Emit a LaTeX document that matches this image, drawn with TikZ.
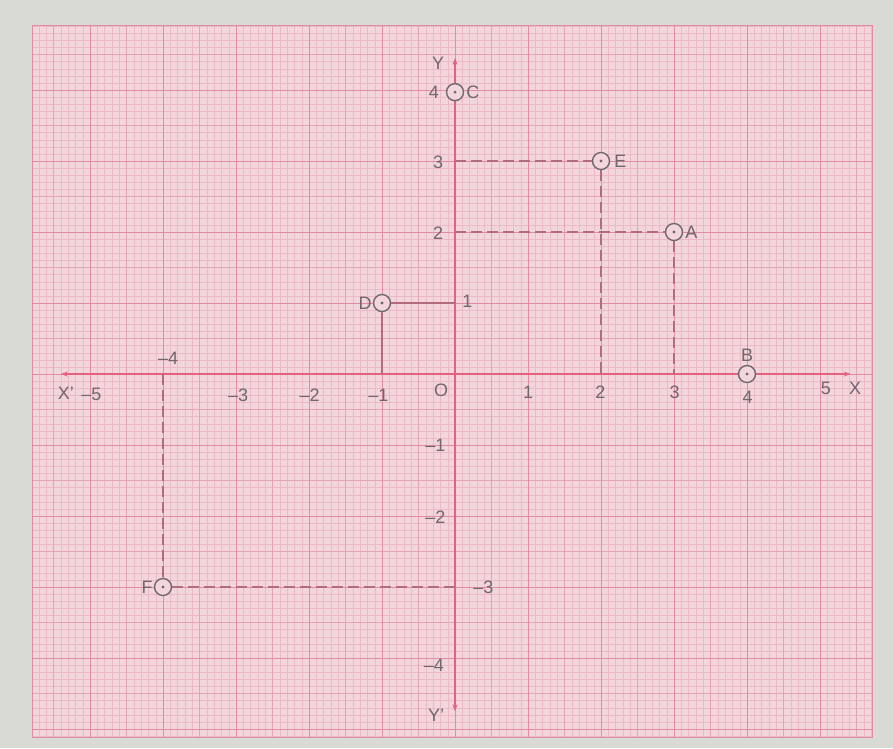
\documentclass[tikz,border=0pt]{standalone}
\usepackage{fontspec}
\setmainfont{Liberation Sans}
\usetikzlibrary{arrows.meta}
\definecolor{bgray}{RGB}{218,218,212}
\definecolor{paper}{RGB}{243,214,220}
\definecolor{finec}{RGB}{235,186,198}
\definecolor{midc}{RGB}{229,164,180}
\definecolor{majorc}{RGB}{224,140,162}
\definecolor{axisc}{RGB}{228,98,128}
\definecolor{ink}{RGB}{112,102,110}
\definecolor{guide}{RGB}{178,108,124}
\tikzset{
  lbl/.style={text=ink, font=\fontsize{18}{20}\selectfont, inner sep=1pt},
  ptmark/.style={circle, draw=ink, line width=1.4pt, minimum size=17pt, inner sep=0pt, fill=paper,
    path picture={\fill[ink] (path picture bounding box.center) circle (1.6pt);}},
  guideline/.style={guide, line width=1.3pt, dash pattern=on 11pt off 5pt},
  guidesolid/.style={guide, line width=1.3pt},
  axisline/.style={axisc, line width=1.5pt, -{Stealth[length=7pt,width=5pt]}}
}
\begin{document}
\begin{tikzpicture}[x=73pt,y=71pt]
\useasboundingbox (-6.233,-5.268) rectangle (6.0,5.268);
\fill[bgray] (-6.233,-5.268) rectangle (6.0,5.268);
\fill[paper] (-5.795,-5.113) rectangle (5.712,4.915);
% graph paper grid
\draw[finec, line width=0.35pt, step=0.1] (-5.795,-5.113) grid (5.712,4.915);
\draw[midc, line width=0.6pt, step=0.5] (-5.795,-5.113) grid (5.712,4.915);
\draw[majorc, line width=0.9pt, step=1] (-5.795,-5.113) grid (5.712,4.915);
\draw[majorc, line width=0.8pt] (-5.795,-5.113) rectangle (5.712,4.915);

% axes
\coordinate (o) at (0,0);
\coordinate (xl) at (-5.4,0);
\coordinate (xr) at (5.42,0);
\coordinate (yt) at (0,4.45);
\coordinate (yb) at (0,-4.75);
\draw[axisline] (o) -- (xr);
\draw[axisline] (o) -- (xl);
\draw[axisline] (o) -- (yt);
\draw[axisline] (o) -- (yb);

% foot points of guides
\coordinate (y3) at (0,3);
\coordinate (y2) at (0,2);
\coordinate (y1) at (0,1);
\coordinate (ym3) at (0,-3);
\coordinate (x2) at (2,0);
\coordinate (x3) at (3,0);
\coordinate (xm1) at (-1,0);
\coordinate (xm4) at (-4,0);

% points
\node[ptmark] (C) at (0,3.97) {};
\node[ptmark] (E) at (2,3) {};
\node[ptmark] (A) at (3,2) {};
\node[ptmark] (B) at (4,0) {};
\node[ptmark] (D) at (-1,1) {};
\node[ptmark] (F) at (-4,-3) {};

% guide lines
\draw[guideline] (y3) -- (E);
\draw[guideline] (E) -- (x2);
\draw[guideline] (y2) -- (A);
\draw[guideline] (A) -- (x3);
\draw[guidesolid] (D) -- (y1);
\draw[guidesolid] (D) -- (xm1);
\draw[guideline] (xm4) -- (F);
\draw[guideline] (F) -- (ym3);

% point labels
\node[lbl, anchor=west] (Cl) at ([xshift=1pt]C.east) {C};
\node[lbl, anchor=west] (El) at ([xshift=3pt]E.east) {E};
\node[lbl, anchor=west] (Al) at ([xshift=1pt]A.east) {A};
\node[lbl, anchor=south] (Bl) at ([yshift=2pt]B.north) {B};
\node[lbl, anchor=east] (Dl) at (D.west) {D};
\node[lbl, anchor=east] (Fl) at (F.west) {F};

% axis labels
\node[lbl] (Xn) at (5.48,-0.2) {X};
\node[lbl] (Xp) at (-5.33,-0.27) {X'};
\node[lbl] (Yn) at (-0.23,4.37) {Y};
\node[lbl] (Yp) at (-0.26,-4.8) {Y'};
\node[lbl] (On) at (-0.19,-0.23) {O};

% x tick labels
\node[lbl] (tm5) at (-4.98,-0.28) {–5};
\node[lbl] (tm4) at (-3.93,0.22) {–4};
\node[lbl] (tm3) at (-2.97,-0.3) {–3};
\node[lbl] (tm2) at (-1.99,-0.3) {–2};
\node[lbl] (tm1) at (-1.05,-0.3) {–1};
\node[lbl] (t1) at (1.0,-0.26) {1};
\node[lbl] (t2) at (1.99,-0.26) {2};
\node[lbl] (t3) at (3.01,-0.26) {3};
\node[lbl] (t4) at (4.01,-0.33) {4};
\node[lbl] (t5) at (5.08,-0.2) {5};

% y tick labels
\node[lbl] (u4) at (-0.29,3.97) {4};
\node[lbl] (u3) at (-0.23,2.98) {3};
\node[lbl] (u2) at (-0.23,1.99) {2};
\node[lbl] (u1) at (0.17,1.02) {1};
\node[lbl] (um1) at (-0.27,-1.0) {–1};
\node[lbl] (um2) at (-0.27,-2.01) {–2};
\node[lbl] (um3) at (0.39,-3.0) {–3};
\node[lbl] (um4) at (-0.29,-4.1) {–4};
\end{tikzpicture}
\end{document}
